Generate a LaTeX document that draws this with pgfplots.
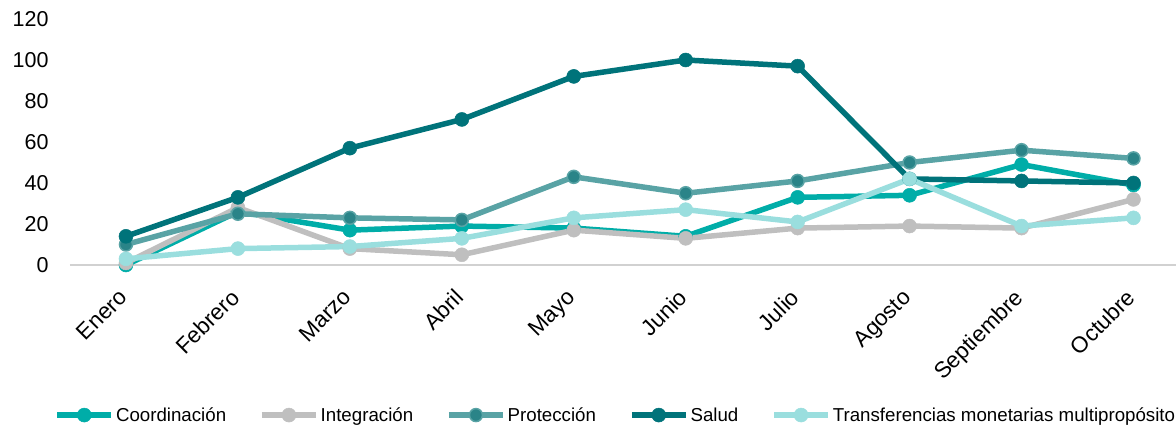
\documentclass[border=0pt]{standalone}
\usepackage{fontspec}
\setmainfont{Liberation Sans}
\usepackage{pgfplots}
\pgfplotsset{compat=1.18}
\definecolor{coord}{HTML}{00ADA8}
\definecolor{integ}{HTML}{BFBFBF}
\definecolor{prot}{HTML}{59A3A5}
\definecolor{protd}{HTML}{2A8488}
\definecolor{salud}{HTML}{00737A}
\definecolor{transf}{HTML}{9ADEDE}
\begin{document}
\begin{tikzpicture}
\begin{axis}[
  scale only axis,
  width=1106bp, height=246bp,
  xmin=-0.5, xmax=9.38,
  ymin=0, ymax=120,
  ytick={0,20,...,120},
  xtick={0,...,9},
  xticklabels={Enero,Febrero,Marzo,Abril,Mayo,Junio,Julio,Agosto,Septiembre,Octubre},
  x tick label style={rotate=45, anchor=north east, font=\fontsize{22.5bp}{25bp}\selectfont, inner sep=1bp, yshift=-9bp, xshift=-21bp},
  y tick label style={font=\fontsize{21.5bp}{24bp}\selectfont, xshift=-18bp},
  /pgf/number format/assume math mode=true,
  axis x line*=bottom,
  axis y line*=left,
  y axis line style={draw=none},
  x axis line style={draw=black!18, line width=1.2bp, -},
  major tick length=0pt,
  ytick style={draw=none},
  xtick style={draw=none},
  clip=false,
  legend columns=5,
  legend style={at={(axis description cs:0.4935,-0.61)}, anchor=center, draw=none,
    font=\fontsize{18.7bp}{21bp}\selectfont,
    /tikz/every even column/.append style={column sep=31bp}},
  legend image code/.code={\draw[mark repeat=2,mark phase=2] plot coordinates {(0bp,0bp)(27bp,0bp)(54bp,0bp)};},
]
\addplot[coord, line width=5.5bp, mark=*, mark size=7bp, mark options={fill=coord, draw=coord, line width=0.5bp}] coordinates {(0,0)(1,26)(2,17)(3,19)(4,18)(5,14)(6,33)(7,34)(8,49)(9,39)};
\addlegendentry{Coordinación}
\addplot[integ, line width=5.5bp, mark=*, mark size=7bp, mark options={fill=integ, draw=integ, line width=0.5bp}] coordinates {(0,1)(1,28)(2,8)(3,5)(4,17)(5,13)(6,18)(7,19)(8,18)(9,32)};
\addlegendentry{Integración}
\addplot[prot, line width=5.5bp, mark=*, mark size=6.5bp, mark options={fill=protd, draw=prot, line width=1.5bp}] coordinates {(0,10)(1,25)(2,23)(3,22)(4,43)(5,35)(6,41)(7,50)(8,56)(9,52)};
\addlegendentry{Protección}
\addplot[salud, line width=5.5bp, mark=*, mark size=7bp, mark options={fill=salud, draw=salud, line width=0.5bp}] coordinates {(0,14)(1,33)(2,57)(3,71)(4,92)(5,100)(6,97)(7,42)(8,41)(9,40)};
\addlegendentry{Salud}
\addplot[transf, line width=5.5bp, mark=*, mark size=7bp, mark options={fill=transf, draw=transf, line width=0.5bp}] coordinates {(0,3)(1,8)(2,9)(3,13)(4,23)(5,27)(6,21)(7,42)(8,19)(9,23)};
\addlegendentry{Transferencias monetarias multipropósito}
\end{axis}
\pgfresetboundingbox
\path (-70bp,-161bp) rectangle (1106bp,265bp);
\end{tikzpicture}
\end{document}
